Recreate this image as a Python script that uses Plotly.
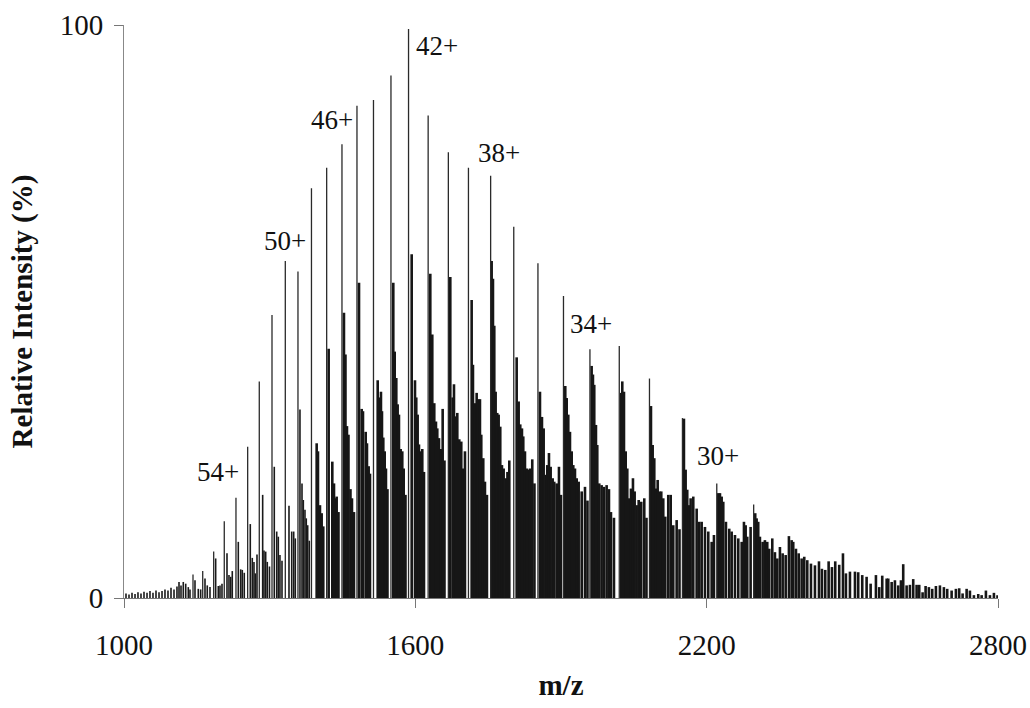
import plotly.graph_objects as go

# ---------------- data ----------------
# low-m/z baseline noise
noise_mz = [1004.1, 1010.3, 1016.5, 1022.7, 1028.8, 1035.0, 1041.2, 1047.4, 1053.5, 1059.7,
            1065.9, 1072.1, 1078.3, 1084.4, 1090.6, 1096.8, 1103.0, 1109.1, 1113.3, 1117.4,
            1122.1, 1127.1, 1132.4, 1135.9]
noise_int = [0.8, 0.6, 0.9, 0.7, 1.0, 0.8, 1.1, 0.9, 1.2, 0.9,
             1.3, 1.0, 1.2, 1.5, 1.3, 1.8, 1.5, 2.0, 2.8, 2.2,
             2.8, 2.5, 1.9, 1.5]

# charge-state (main) peaks
charge_z = [58, 57, 56, 55, 54, 53, 52, 51, 50, 49, 48, 47, 46, 45, 44, 43, 42, 41,
            40, 39, 38, 37, 36, 35, 34, 33, 32, 31, 30, 29]
charge_mz = [1142.1, 1162.1, 1184.7, 1206.5, 1230.6, 1254.7, 1278.6, 1304.8, 1332.2, 1358.3,
             1386.1, 1417.4, 1448.9, 1479.8, 1513.8, 1549.8, 1586.0, 1626.4, 1668.0, 1709.4,
             1755.1, 1802.7, 1852.5, 1905.1, 1959.6, 2020.0, 2082.2, 2150.1, 2220.8, 2296.8]
charge_int = [4.1, 4.7, 8.1, 13.4, 17.5, 26.4, 37.8, 49.4, 58.8, 57.0,
              71.5, 75.1, 79.2, 85.9, 86.9, 91.2, 99.3, 84.2, 77.8, 75.1,
              73.7, 64.8, 58.4, 52.7, 43.4, 44.0, 38.3, 31.4, 20.0, 16.3]

# adduct / satellite lines following each charge state
adduct_mz = [
    1146.2, 1153.0, 1157.9,
    1166.8, 1171.5, 1177.1,
    1188.8, 1194.2, 1197.7, 1201.8,
    1212.1, 1216.2, 1219.7, 1223.0,
    1235.4, 1240.3, 1243.6, 1247.7,
    1260.1, 1264.2, 1267.7, 1270.4, 1273.9,
    1285.6, 1288.3, 1291.8, 1295.1, 1299.6,
    1309.5, 1314.5, 1317.8, 1321.2, 1325.4,
    1339.8, 1345.4, 1349.5, 1352.8,
    1362.4, 1366.6, 1369.3, 1372.7, 1375.4, 1378.3, 1381.6,
    1396.8, 1399.5, 1403.6, 1407.1, 1410.4,
    1421.5, 1429.0, 1432.5, 1435.1, 1438.0, 1441.7,
    1453.0, 1456.1, 1459.2, 1462.3, 1466.4, 1469.5, 1473.6,
    1484.0, 1489.5, 1492.2, 1497.8, 1500.4, 1503.9, 1506.6,
    1522.5, 1525.8, 1529.2, 1531.3, 1534.0, 1536.9, 1539.5, 1542.6,
    1554.6, 1557.5, 1560.8, 1563.6, 1566.3, 1569.8, 1573.1, 1576.0, 1579.7,
    1592.5, 1599.3, 1601.9, 1604.8, 1607.5, 1611.0, 1614.3, 1617.8,
    1630.8, 1634.9, 1639.0, 1642.5, 1645.2, 1648.7, 1652.2, 1656.3, 1660.0,
    1672.0, 1676.9, 1679.6, 1683.1, 1686.4, 1690.5, 1694.6, 1698.7, 1702.2,
    1716.0, 1718.7, 1722.8, 1726.3, 1729.6, 1733.1, 1735.8, 1739.9, 1743.4, 1747.5,
    1757.2, 1759.9, 1762.6, 1765.4, 1768.7, 1771.6, 1774.9, 1778.4, 1781.9, 1786.0, 1789.7, 1793.5,
    1808.7, 1812.8, 1816.1, 1819.6, 1822.3, 1825.8, 1829.3, 1832.6, 1836.1, 1840.8, 1845.3,
    1856.7, 1860.8, 1864.3, 1869.0, 1871.7, 1875.2, 1878.7, 1882.8, 1886.1, 1891.1, 1895.8, 1899.9,
    1908.8, 1911.7, 1915.0, 1918.5, 1922.0, 1925.3, 1928.8, 1932.3, 1936.4, 1942.6, 1949.4, 1954.5,
    1963.1, 1965.8, 1968.5, 1972.0, 1974.7, 1978.8, 1983.7, 1988.5, 1994.0, 1998.8, 2002.9, 2009.1,
    2024.1, 2026.2, 2029.7, 2033.2, 2036.5, 2040.6, 2044.1, 2048.2, 2051.7, 2055.8, 2060.0, 2065.3, 2071.5, 2076.0,
    2085.3, 2088.8, 2092.1, 2095.6, 2099.1, 2102.4, 2106.5, 2110.6, 2114.8, 2120.9, 2125.9, 2131.2, 2138.2, 2144.0,
    2153.2, 2156.7, 2160.0, 2163.5, 2167.0, 2172.4, 2179.4, 2184.7, 2189.7, 2196.5, 2203.3, 2210.3, 2215.0,
    2223.9, 2227.4, 2230.9, 2234.2, 2239.7, 2246.5, 2251.5, 2258.3, 2265.1, 2272.1, 2276.8, 2280.3, 2283.6, 2290.5,
    2300.0, 2302.9, 2306.2, 2309.7, 2315.3, 2320.0, 2324.8, 2328.9, 2335.1, 2340.6, 2345.4, 2350.9, 2356.5, 2362.7,
    2369.4, 2375.0, 2378.3, 2383.9, 2389.5, 2395.6, 2401.0, 2407.2, 2414.8, 2423.0, 2431.3, 2437.4, 2444.2, 2451.2,
    2458.0, 2464.8, 2473.0, 2480.7, 2486.8, 2495.1, 2505.4, 2512.1, 2520.4, 2529.4, 2537.7, 2548.6, 2555.4, 2561.6,
    2570.7, 2574.0, 2581.0, 2587.7, 2594.5, 2600.1, 2604.8, 2611.8, 2618.6, 2625.4, 2632.4, 2637.8, 2644.7, 2650.9,
    2657.7, 2664.5, 2672.1, 2680.4, 2688.6, 2695.4, 2704.5, 2713.3, 2720.1, 2727.1, 2735.4, 2742.2, 2750.4, 2759.3,
    2766.3, 2775.1, 2783.4, 2791.6, 2799.0,
]
adduct_int = [
    3.1, 1.6, 1.5,
    3.4, 2.2, 1.9,
    6.9, 2.1, 2.2, 2.5,
    7.8, 4.0, 3.7, 4.7,
    9.8, 5.0, 4.9, 4.4,
    12.9, 7.0, 6.3, 4.3, 7.6,
    18.0, 8.3, 8.1, 6.3, 5.5,
    22.9, 11.6, 10.7, 7.5, 6.5,
    16.1, 11.6, 11.6, 10.4,
    32.9, 20.0, 17.1, 15.4, 13.9, 12.7, 10.0,
    27.0, 25.6, 16.2, 14.8, 12.5,
    43.5, 23.8, 20.0, 17.4, 17.7, 15.0,
    49.8, 42.5, 30.0, 28.5, 19.0, 17.4, 15.0,
    55.0, 33.0, 32.6, 29.0, 27.0, 23.0, 21.7,
    38.0, 35.0, 36.0, 32.6, 28.0, 25.6, 22.6, 19.0,
    55.0, 43.0, 38.4, 33.8, 32.0, 26.0, 25.6, 22.6, 18.0,
    60.0, 38.0, 35.0, 32.0, 26.8, 25.6, 26.0, 22.0,
    56.6, 46.0, 34.0, 30.8, 29.6, 27.9, 26.0, 33.0, 24.0,
    56.0, 35.0, 37.3, 31.7, 32.3, 27.7, 27.3, 22.6, 25.6,
    52.0, 40.7, 34.0, 35.8, 34.7, 34.7, 28.5, 24.4, 20.3, 18.0,
    58.8, 55.7, 47.5, 36.0, 32.3, 32.0, 29.9, 23.2, 22.6, 20.9, 22.0, 24.0,
    42.0, 34.3, 30.3, 29.6, 28.2, 25.6, 22.6, 22.4, 22.6, 24.2, 20.0,
    36.0, 31.6, 29.6, 21.5, 23.2, 25.3, 22.9, 20.9, 20.3, 20.0, 22.9, 18.0,
    37.0, 34.9, 32.0, 29.0, 25.6, 23.2, 22.6, 20.9, 20.3, 18.6, 19.4, 17.0,
    40.5, 39.0, 37.2, 30.2, 26.7, 20.0, 19.7, 19.4, 19.7, 19.0, 15.0, 14.0,
    35.8, 37.8, 36.0, 25.6, 22.6, 17.4, 19.1, 20.9, 18.6, 16.2, 17.1, 16.8, 17.4, 14.0,
    33.5, 26.7, 24.4, 19.1, 20.6, 18.6, 18.6, 17.4, 14.2, 18.0, 18.0, 12.7, 13.6, 12.0,
    31.3, 22.4, 18.9, 16.2, 17.4, 17.7, 15.6, 13.3, 13.3, 12.4, 11.6, 9.8, 11.0,
    18.3, 18.3, 17.7, 16.8, 13.3, 12.1, 11.6, 11.0, 10.4, 9.8, 13.3, 12.7, 10.7, 12.4,
    14.8, 13.9, 13.3, 10.7, 9.8, 10.1, 9.8, 8.6, 10.4, 8.0, 6.9, 8.9, 7.8, 7.5,
    10.8, 10.1, 9.8, 8.6, 7.8, 6.9, 7.2, 6.6, 6.0, 5.7, 6.4, 5.1, 4.9, 6.4,
    5.4, 6.4, 5.8, 7.8, 4.3, 4.6, 4.6, 4.5, 4.0, 3.7, 2.5, 4.0, 1.9, 3.9,
    3.4, 3.4, 2.8, 3.1, 2.2, 3.1, 5.9, 2.2, 2.3, 3.3, 2.3, 2.3, 1.0, 2.1,
    1.9, 1.6, 2.1, 2.2, 1.9, 1.6, 1.3, 1.6, 1.7, 0.8, 1.6, 1.3, 0.5, 0.7,
    0.5, 1.3, 0.5, 0.9, 0.5,
]

label_charges = [54, 50, 46, 42, 38, 34, 30]
x_ticks = [1000, 1600, 2200, 2800]
y_ticks = [0, 100]


def sticks(pairs):
    xs, ys = [], []
    for m, h in sorted(pairs):
        xs += [m, m, None]
        ys += [0, h, None]
    return xs, ys


pairs = list(zip(noise_mz + adduct_mz, noise_int + adduct_int))
sparse = [p for p in pairs if p[0] < 1390]
dense = [p for p in pairs if p[0] >= 1390]

fig = go.Figure()
sx, sy = sticks(sparse)
fig.add_trace(go.Scatter(x=sx, y=sy, mode="lines",
                         line=dict(color="#1a1a1a", width=1.6),
                         hoverinfo="skip", showlegend=False))
dx_, dy_ = sticks(dense)
fig.add_trace(go.Scatter(x=dx_, y=dy_, mode="lines",
                         line=dict(color="#161616", width=2.6),
                         hoverinfo="skip", showlegend=False))
mx, my = sticks(list(zip(charge_mz, charge_int)))
fig.add_trace(go.Scatter(x=mx, y=my, mode="lines",
                         line=dict(color="#2a2a2a", width=1.3),
                         hoverinfo="skip", showlegend=False))

serif = "Liberation Serif"
# charge-state labels (offsets in pixels relative to the labelled peak top)
label_shift = {54: (-18, 26), 50: (0, 20), 46: (-10, 24), 42: (28, -17),
               38: (8, 23), 34: (1, 25), 30: (1, 27)}
for z in label_charges:
    i = charge_z.index(z)
    ox, oy = label_shift[z]
    fig.add_annotation(x=charge_mz[i], y=charge_int[i], text=f"{z}+",
                       showarrow=False, xanchor="center", yanchor="middle",
                       xshift=ox, yshift=oy,
                       font=dict(family=serif, size=27, color="#111"))

fig.update_layout(
    width=1030, height=708,
    margin=dict(l=124, r=32, t=25, b=110),
    paper_bgcolor="white", plot_bgcolor="white",
    xaxis=dict(range=[1000, 2800], tickvals=x_ticks, ticktext=[str(v) for v in x_ticks],
               automargin=False,
               showgrid=False, zeroline=False, showline=True, linecolor="#777", linewidth=1,
               ticks="outside", ticklen=9, tickcolor="#777", tickwidth=1,
               ticklabelstandoff=12,
               tickfont=dict(family=serif, size=29, color="#111"),
               title=dict(text="<b>m/z</b>", font=dict(family=serif, size=29, color="#111"),
                          standoff=14)),
    yaxis=dict(range=[0, 100], tickvals=y_ticks, ticktext=[str(v) for v in y_ticks],
               automargin=False,
               showgrid=False, zeroline=False, showline=True, linecolor="#888", linewidth=1,
               ticks="outside", ticklen=9, tickcolor="#777", tickwidth=1,
               ticklabelstandoff=5,
               tickfont=dict(family=serif, size=29, color="#111"),
               title=dict(text="<b>Relative Intensity (%)</b>",
                          font=dict(family=serif, size=29, color="#111"), standoff=18)),
)

fig.write_html("out.html", config={"displayModeBar": False},
               post_script="document.body.style.margin='0';document.body.style.padding='0';")
